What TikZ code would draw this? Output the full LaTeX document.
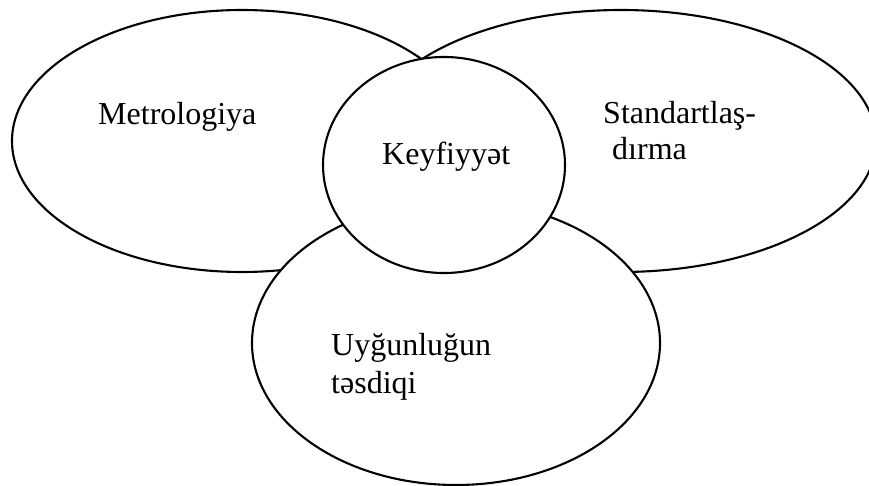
\documentclass[tikz,border=0pt]{standalone}
\usepackage{fontspec}
\setmainfont{Liberation Serif}
\usetikzlibrary{shapes.geometric}
\begin{document}
\begin{tikzpicture}[x=1pt,y=-1pt,
  oval/.style={ellipse,draw=black,fill=white,line width=2.1pt,inner sep=0pt,outer sep=0pt},
  label/.style={anchor=base west,inner sep=0pt,font=\fontsize{32}{38}\selectfont,align=left}]
  \useasboundingbox (0,0) rectangle (869,486);
  % outer fields, drawn back to front
  \node[oval,minimum width=460pt,minimum height=262pt] (metro) at (242,141) {};
  \node[oval,minimum width=510pt,minimum height=262pt] (stand) at (621,141) {};
  \node[oval,minimum width=408pt,minimum height=284pt] (uygun) at (456,343) {};
  % central field on top
  \node[oval,minimum width=242pt,minimum height=216pt] (keyf) at (444,165) {};
  % labels
  \node[label] (tmetro) at (98,125) {Metrologiya};
  \node[label] (tkeyf) at (382,165) {Keyfiyyət};
  \node[label] (tstand1) at (603,124) {Standartlaş-};
  \node[label] (tstand2) at (612,160) {dırma};
  \node[label] (tuygun1) at (331,355) {Uyğunluğun};
  \node[label] (tuygun2) at (331,393) {təsdiqi};
\end{tikzpicture}
\end{document}
